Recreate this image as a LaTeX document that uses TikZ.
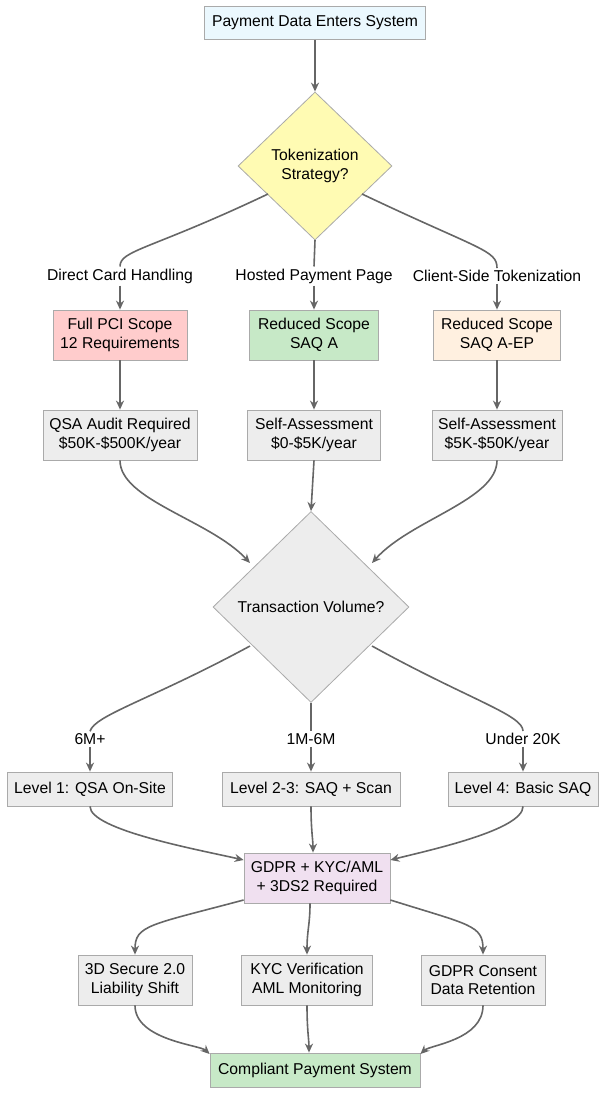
\documentclass[tikz,border=0pt]{standalone}
\usepackage{fontspec}
\setmainfont{Liberation Sans}
\usetikzlibrary{shapes.geometric,arrows.meta}
\definecolor{ln}{HTML}{666666}
\definecolor{bd}{HTML}{AAAAAA}
\begin{document}
\begin{tikzpicture}[x=1pt,y=-1pt,
  every node/.style={font=\fontsize{15.7}{18.5}\selectfont, align=center},
  box/.style={draw=bd, line width=0.8pt, fill=#1, inner sep=0pt},
  dia/.style={draw=bd, line width=0.8pt, fill=#1, diamond, inner sep=0pt},
  lbl/.style={fill=white, inner sep=2pt},
  ar/.style={draw=ln, line width=1.6pt, -{Stealth[length=9pt,width=8pt]}},
  pl/.style={draw=ln, line width=1.6pt}]
\useasboundingbox (0,0) rectangle (615,1108);
\node[box=cyan!8, minimum width=221, minimum height=33] (start) at (315,23) {Payment Data Enters System};
\node[dia=yellow!30, minimum width=154, minimum height=148] (tok) at (315,166) {Tokenization\\Strategy?};
\node[lbl] (l1) at (120,276) {Direct Card Handling};
\node[lbl] (l2) at (314,276) {Hosted Payment Page};
\node[lbl] (l3) at (497,276) {Client-Side Tokenization};
\node[box={red!20}, minimum width=134, minimum height=50] (full) at (120,335) {Full PCI Scope\\12 Requirements};
\node[box={green!60!black!22}, minimum width=129, minimum height=50] (saqa) at (314,335) {Reduced Scope\\SAQ A};
\node[box={orange!12}, minimum width=127, minimum height=50] (saqep) at (497,335) {Reduced Scope\\SAQ A-EP};
\node[box={black!7}, minimum width=154, minimum height=50] (qsa) at (120,435) {QSA Audit Required\\\$50K-\$500K/year};
\node[box={black!7}, minimum width=133, minimum height=50] (sa1) at (314,435) {Self-Assessment\\\$0-\$5K/year};
\node[box={black!7}, minimum width=130, minimum height=50] (sa2) at (497,435) {Self-Assessment\\\$5K-\$50K/year};
\node[dia={black!7}, minimum width=196, minimum height=191] (vol) at (311,607) {Transaction Volume?};
\node[lbl] (m1) at (90,739) {6M+};
\node[lbl] (m2) at (311,739) {1M-6M};
\node[lbl] (m3) at (523,739) {Under 20K};
\node[box={black!7}, minimum width=165, minimum height=34] (lv1) at (90,789) {Level 1: QSA On-Site};
\node[box={black!7}, minimum width=178, minimum height=34] (lv2) at (311,789) {Level 2-3: SAQ + Scan};
\node[box={black!7}, minimum width=150, minimum height=34] (lv4) at (523,789) {Level 4: Basic SAQ};
\node[box={violet!12}, minimum width=146, minimum height=50] (gdpr) at (317,878) {GDPR + KYC/AML\\+ 3DS2 Required};
\node[box={black!7}, minimum width=114, minimum height=50] (tds) at (135,980) {3D Secure 2.0\\Liability Shift};
\node[box={black!7}, minimum width=131, minimum height=50] (kyc) at (307,980) {KYC Verification\\AML Monitoring};
\node[box={black!7}, minimum width=124, minimum height=50] (gc) at (483,980) {GDPR Consent\\Data Retention};
\node[box={green!60!black!22}, minimum width=210, minimum height=34] (done) at (315,1070) {Compliant Payment System};

\draw[ar] (start) -- (tok);
\draw[pl] (268,194) .. controls (150,250) and (120,250) .. (l1.north);
\draw[pl] (315,240) -- (l2.north);
\draw[pl] (362,194) .. controls (480,250) and (497,250) .. (l3.north);
\draw[ar] (l1.south) to[out=-90,in=90] (full.north);
\draw[ar] (l2.south) -- (saqa.north);
\draw[ar] (l3.south) -- (saqep.north);
\draw[ar] (full) -- (qsa);
\draw[ar] (saqa) -- (sa1);
\draw[ar] (saqep) -- (sa2);
\draw[ar] (qsa.south) .. controls (120,500) and (210,520) .. (250,563);
\draw[ar] (sa1.south) -- (vol.north);
\draw[ar] (sa2.south) .. controls (497,500) and (410,520) .. (372,563);
\draw[pl] (250,646) .. controls (150,700) and (95,715) .. (m1.north);
\draw[pl] (311,703) -- (m2.north);
\draw[pl] (372,646) .. controls (470,700) and (523,715) .. (m3.north);
\draw[ar] (m1.south) -- (lv1.north);
\draw[ar] (m2.south) -- (lv2.north);
\draw[ar] (m3.south) -- (lv4.north);
\draw[ar] (lv1.south) .. controls (90,830) and (200,850) .. (gdpr.west|-0,860);
\draw[ar] (lv2.south) .. controls (311,830) and (313,840) .. (gdpr.north -| 313,0);
\draw[ar] (lv4.south) .. controls (523,830) and (430,850) .. (gdpr.east|-0,860);
\draw[ar] (gdpr.west|-0,900) .. controls (150,925) and (135,925) .. (tds.north);
\draw[ar] (gdpr.south -| 310,0) .. controls (310,925) and (307,930) .. (kyc.north);
\draw[ar] (gdpr.east|-0,900) .. controls (470,925) and (483,925) .. (gc.north);
\draw[ar] (tds.south) .. controls (135,1040) and (200,1045) .. (done.west|-0,1054);
\draw[ar] (kyc.south) .. controls (307,1030) and (309,1040) .. (done.north -| 309,0);
\draw[ar] (gc.south) .. controls (483,1040) and (430,1045) .. (done.east|-0,1054);
\end{tikzpicture}
\end{document}
